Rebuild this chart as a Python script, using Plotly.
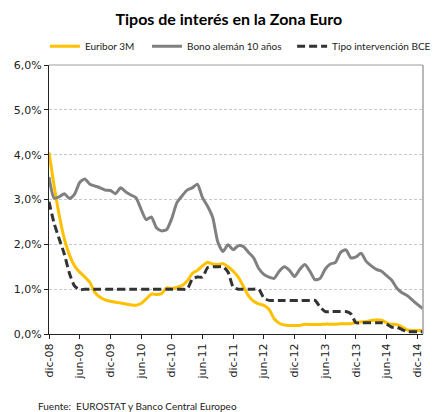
import plotly.graph_objects as go

# Months Dec 2008 .. Jan 2015
mes = ["ene", "feb", "mar", "abr", "may", "jun", "jul", "ago", "sep", "oct", "nov", "dic"]
months = ["dic-08"] + [f"{m}-{y:02d}" for y in range(9, 15) for m in mes] + ["ene-15"]

euribor = [4.05, 3.30, 2.65, 2.12, 1.76, 1.52, 1.38, 1.27, 1.15, 0.92, 0.82, 0.76,
           0.73, 0.71, 0.69, 0.67, 0.65, 0.64, 0.68, 0.78, 0.89, 0.88, 0.90, 1.03,
           1.01, 1.04, 1.08, 1.18, 1.35, 1.42, 1.52, 1.60, 1.56, 1.55, 1.57, 1.50,
           1.40, 1.27, 1.06, 0.85, 0.73, 0.67, 0.64, 0.55, 0.34, 0.24, 0.20, 0.19,
           0.19, 0.19, 0.22, 0.21, 0.21, 0.21, 0.22, 0.22, 0.22, 0.23, 0.23, 0.23,
           0.26, 0.27, 0.28, 0.30, 0.32, 0.31, 0.25, 0.22, 0.21, 0.16, 0.09, 0.08,
           0.08, 0.08]

bono = [3.50, 3.03, 3.06, 3.13, 3.02, 3.12, 3.38, 3.46, 3.34, 3.30, 3.26, 3.21,
        3.20, 3.13, 3.26, 3.17, 3.10, 3.04, 2.78, 2.55, 2.61, 2.37, 2.30, 2.33,
        2.58, 2.93, 3.08, 3.21, 3.26, 3.34, 3.04, 2.85, 2.60, 2.05, 1.84, 1.99,
        1.88, 1.97, 1.95, 1.82, 1.70, 1.46, 1.33, 1.27, 1.24, 1.40, 1.50, 1.42,
        1.28, 1.44, 1.55, 1.40, 1.21, 1.24, 1.45, 1.56, 1.60, 1.82, 1.88, 1.70,
        1.72, 1.80, 1.62, 1.52, 1.44, 1.40, 1.30, 1.20, 1.02, 0.92, 0.86, 0.76,
        0.66, 0.57]

bce = [2.95, 2.47, 2.12, 1.78, 1.35, 1.07, 0.99, 1.00, 1.00, 1.00, 1.00, 1.00,
       1.00, 1.00, 1.00, 1.00, 1.00, 1.00, 1.00, 1.00, 1.00, 1.00, 1.00, 1.00,
       1.00, 1.00, 1.00, 1.00, 1.22, 1.27, 1.27, 1.48, 1.50, 1.50, 1.50, 1.38,
       1.05, 1.00, 1.00, 1.00, 1.00, 1.00, 0.80, 0.75, 0.75, 0.75, 0.75, 0.75,
       0.75, 0.75, 0.75, 0.75, 0.75, 0.60, 0.50, 0.50, 0.50, 0.50, 0.50, 0.45,
       0.25, 0.25, 0.25, 0.25, 0.25, 0.25, 0.22, 0.15, 0.15, 0.10, 0.05, 0.05,
       0.05, 0.05]

x_ticks = ["dic-08", "jun-09", "dic-09", "jun-10", "dic-10", "jun-11", "dic-11",
           "jun-12", "dic-12", "jun-13", "dic-13", "jun-14", "dic-14"]
y_ticks = [0, 1, 2, 3, 4, 5, 6]
y_labels = ["0,0%", "1,0%", "2,0%", "3,0%", "4,0%", "5,0%", "6,0%"]

FONT = "Lato"
TICKFONT = "DejaVu Sans"

fig = go.Figure()
fig.add_trace(go.Scatter(x=months, y=euribor, name="Euribor 3M", mode="lines", legend="legend",
                         line=dict(color="#FFC000", width=3, shape="spline", smoothing=0.6)))
fig.add_trace(go.Scatter(x=months, y=bono, name="Bono alemán 10 años", mode="lines", legend="legend2",
                         line=dict(color="#808080", width=3, shape="spline", smoothing=0.6)))
fig.add_trace(go.Scatter(x=months, y=bce, name="Tipo intervención BCE", mode="lines", legend="legend3",
                         line=dict(color="#333333", width=3, dash="8px,4px", shape="spline", smoothing=0.6)))

leg_common = dict(orientation="h", xanchor="left", y=1.07, yanchor="middle",
                  font=dict(size=10, color="#222222"), itemwidth=30,
                  bgcolor="rgba(0,0,0,0)")

fig.update_layout(
    width=436, height=412,
    margin=dict(l=49, r=12.5, t=65, b=78, autoexpand=False),
    paper_bgcolor="white", plot_bgcolor="white",
    font=dict(family=FONT, color="#222222"),
    title=dict(text="<b>Tipos de interés en la Zona Euro</b>", x=0.525, xanchor="center",
               y=1 - 19 / 412, yanchor="middle", font=dict(size=16, color="#000000", family=FONT)),
    showlegend=True,
    legend=dict(x=-0.011, **leg_common),
    legend2=dict(x=0.262, **leg_common),
    legend3=dict(x=0.650, **leg_common),
    xaxis=dict(type="category", range=[0, 73.1], tickmode="array", tickvals=x_ticks,
               ticktext=x_ticks, tickangle=-90, ticks="outside", ticklen=4,
               tickcolor="#222222", showline=True, linecolor="#222222", linewidth=1.2,
               showgrid=False, zeroline=False,
               tickfont=dict(size=11, color="#222222", family=TICKFONT)),
    yaxis=dict(range=[0, 6], tickmode="array", tickvals=y_ticks, ticktext=y_labels,
               ticks="outside", ticklen=4, tickcolor="#222222", showline=True,
               linecolor="#222222", linewidth=1.2, showgrid=True, gridcolor="#c8c8c8",
               griddash="3px,2px", gridwidth=1, zeroline=False,
               tickfont=dict(size=11, color="#222222", family=TICKFONT)),
    annotations=[dict(text="Fuente:  EUROSTAT y Banco Central Europeo", xref="paper", yref="paper",
                      x=-0.035, y=-0.268, xanchor="left", yanchor="middle", showarrow=False,
                      font=dict(size=10, color="#222222", family=FONT))],
    shapes=[dict(type="line", xref="paper", yref="paper", x0=0, x1=1, y0=1, y1=1,
                 line=dict(color="#a0a0a0", width=1.2)),
            dict(type="line", xref="paper", yref="paper", x0=1, x1=1, y0=0, y1=1,
                 line=dict(color="#a0a0a0", width=1.5))],
)

fig.write_html("out.html", config={"displayModeBar": False},
               post_script="document.body.style.margin='0';")
